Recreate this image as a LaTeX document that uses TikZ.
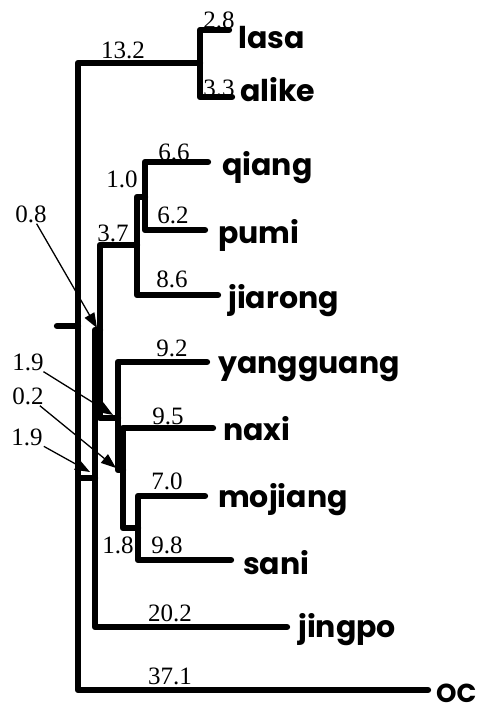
\documentclass[tikz,border=0pt]{standalone}
\usepackage{fontspec}
\setmainfont{Liberation Serif}
\newfontfamily\namefont{Poppins}
\usetikzlibrary{positioning,arrows.meta}

\begin{document}
\begin{tikzpicture}[
    x=1pt, y=-1pt,
    branch/.style={
        line width=6.3pt,
        line cap=round,
        line join=round
    },
    pointer/.style={
        -{Triangle[length=15pt,width=11pt]},
        line width=1.3pt
    },
    leaf/.style={
        font=\namefont\bfseries\fontsize{30}{32}\selectfont,
        inner sep=0pt,
        anchor=mid west
    },
    len/.style={
        font=\fontsize{25}{27}\selectfont,
        inner sep=1pt
    }
]

\useasboundingbox (0,0) rectangle (485,710);

% Internal nodes of the tree
\coordinate (stem) at (57,326);
\coordinate (root) at (78,326);
\coordinate (la) at (200,63);
\coordinate (nA) at (95,478);
\coordinate (nB) at (100,330);
\coordinate (nQ) at (137,245);
\coordinate (nQP) at (145,197);
\coordinate (nC) at (118,418);
\coordinate (nD) at (123,470);
\coordinate (nE) at (138,528);

% Branch ends
\coordinate (lasaE) at (229,30);
\coordinate (alikeE) at (232,97);
\coordinate (qiangE) at (208,162);
\coordinate (pumiE) at (205,230);
\coordinate (jiarongE) at (218,295);
\coordinate (yangguangE) at (207,362);
\coordinate (naxiE) at (213,428);
\coordinate (mojiangE) at (205,496);
\coordinate (saniE) at (231,560);
\coordinate (jingpoE) at (287,627);
\coordinate (ocE) at (428,690);

% Leaf names
\node[right=9pt of lasaE, leaf, yshift=-16pt] (lasa) {lasa};
\node[right=8pt of alikeE, leaf, yshift=-2pt] (alike) {alike};
\node[right=14pt of qiangE, leaf, yshift=-11pt] (qiang) {qiang};
\node[right=13pt of pumiE, leaf, yshift=-11pt] (pumi) {pumi};
\node[right=10pt of jiarongE, leaf, yshift=-11pt] (jiarong) {jiarong};
\node[right=11pt of yangguangE, leaf, yshift=-9pt] (yangguang) {yangguang};
\node[right=10pt of naxiE, leaf, yshift=-10pt] (naxi) {naxi};
\node[right=13pt of mojiangE, leaf, yshift=-9pt] (mojiang) {mojiang};
\node[right=12pt of saniE, leaf, yshift=-12pt] (sani) {sani};
\node[right=11pt of jingpoE, leaf, yshift=-8pt] (jingpo) {jingpo};
\node[right=8pt of ocE, leaf, font=\namefont\bfseries\fontsize{26}{28}\selectfont, yshift=-10pt] (oc) {OC};

% Branches
\draw[branch] (stem) -- (root);
\draw[branch] (root) |- (la);
\draw[branch] (la) |- (lasaE);
\draw[branch] (la) |- (alikeE);
\draw[branch] (root) |- (nA);
\draw[branch] (root) |- (ocE);
\draw[branch] (nA) |- (nB);
\draw[branch] (nA) |- (jingpoE);
\draw[branch] (nB) |- (nQ);
\draw[branch] (nB) |- (nC);
\draw[branch] (nQ) |- (nQP);
\draw[branch] (nQ) |- (jiarongE);
\draw[branch] (nQP) |- (qiangE);
\draw[branch] (nQP) |- (pumiE);
\draw[branch] (nC) |- (yangguangE);
\draw[branch] (nC) |- (nD);
\draw[branch] (nD) |- (naxiE);
\draw[branch] (nD) |- (nE);
\draw[branch] (nE) |- (mojiangE);
\draw[branch] (nE) |- (saniE);

% Branch lengths
\node[len] (l132) at (123,50) {13.2};
\node[len] (l28) at (219,20) {2.8};
\node[len] (l33) at (219,88) {3.3};
\node[len] (l66) at (174,152) {6.6};
\node[len] (l10) at (122,179) {1.0};
\node[len] (l62) at (173,215) {6.2};
\node[len] (l37) at (113,233) {3.7};
\node[len] (l86) at (172,279) {8.6};
\node[len] (l92) at (172,348) {9.2};
\node[len] (l95) at (168,416) {9.5};
\node[len] (l70) at (167,481) {7.0};
\node[len] (l18) at (118,545) {1.8};
\node[len] (l98) at (167,545) {9.8};
\node[len] (l202) at (170,613) {20.2};
\node[len] (l371) at (170,676) {37.1};

% Short branches pointed out
\coordinate (t08) at (97,328);
\coordinate (t19u) at (113,415);
\coordinate (t02) at (116,468);
\coordinate (t19l) at (90,472);
\node[len] (a08) at (31,214) {0.8};
\node[len] (a19u) at (28,362) {1.9};
\node[len] (a02) at (28,396) {0.2};
\node[len] (a19l) at (27,437) {1.9};
\draw[pointer] (a08) -- (t08);
\draw[pointer] (a19u) -- (t19u);
\draw[pointer] (a02) -- (t02);
\draw[pointer] (a19l) -- (t19l);

\end{tikzpicture}
\end{document}
